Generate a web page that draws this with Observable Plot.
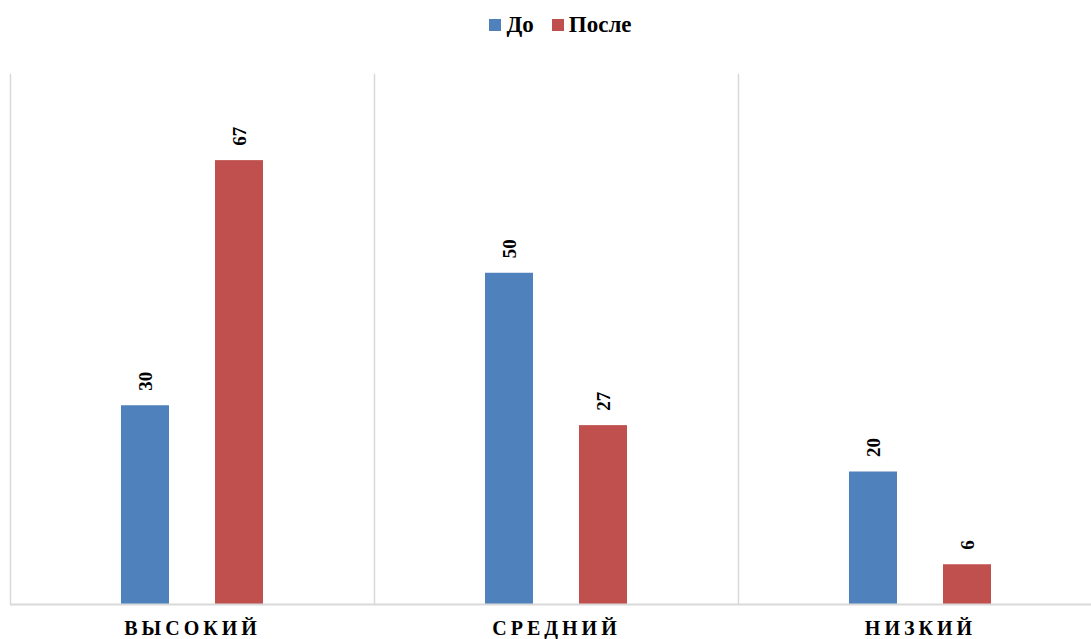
<!DOCTYPE html>
<html>
<head>
<meta charset="utf-8">
<script src="https://cdn.jsdelivr.net/npm/d3@7"></script>
<script src="https://cdn.jsdelivr.net/npm/@observablehq/plot@0.6"></script>
<style>
  html, body { margin: 0; padding: 0; background: #fff; overflow: hidden; }
  #legend { height: 44px; box-sizing: border-box; padding-top: 13px; padding-left: 30px; display: flex; justify-content: center; align-items: flex-start; gap: 18px;
    font-family: "Liberation Serif", "Times New Roman", serif; font-weight: bold; font-size: 23px; color: #000; }
  #legend .item { display: flex; align-items: center; line-height: 23px; }
  #legend .sw { width: 12px; height: 12px; display: inline-block; margin-right: 5px; }
  g[aria-label="fx-axis tick label"] text { letter-spacing: 4px; }
</style>
</head>
<body>
<div id="legend"></div>
<div id="chart"></div>
<script>
const categories = ["ВЫСОКИЙ", "СРЕДНИЙ", "НИЗКИЙ"];
const series = ["До", "После"];
const before = [30, 50, 20];
const after = [67, 27, 6];
const colors = ["#4F81BD", "#C0504D"];

const data = [];
categories.forEach((c, i) => {
  data.push({cat: c, series: series[0], value: before[i]});
  data.push({cat: c, series: series[1], value: after[i]});
});

const font = '"Liberation Serif", "Times New Roman", serif';

const legend = document.getElementById("legend");
series.forEach((s, i) => {
  const it = document.createElement("div");
  it.className = "item";
  const sw = document.createElement("span");
  sw.className = "sw";
  sw.style.background = colors[i];
  it.appendChild(sw);
  it.appendChild(document.createTextNode(s));
  legend.appendChild(it);
});

const chart = Plot.plot({
  width: 1091,
  height: 595,
  marginLeft: 10,
  marginRight: -11,
  marginTop: 30,
  marginBottom: 35,
  style: {fontFamily: font, background: "#fff", overflow: "hidden"},
  fx: {domain: categories, padding: 0, label: null},
  x: {domain: series, paddingInner: 0.4842, paddingOuter: 1.158, axis: null},
  y: {domain: [0, 80], axis: null},
  color: {domain: series, range: colors},
  marks: [
    Plot.frame({anchor: "left", stroke: "#d9d9d9", strokeWidth: 1.5}),
    Plot.barY(data, {fx: "cat", x: "series", y: "value", fill: "series"}),
    Plot.ruleY([0], {stroke: "#d9d9d9", strokeWidth: 2}),
    Plot.text(data, {fx: "cat", x: "series", y: "value", text: d => String(d.value),
      rotate: -90, textAnchor: "start", dy: -15, fontSize: 19, fontWeight: "bold", fill: "#000"}),
    Plot.axisFx({anchor: "bottom", tickSize: 0, tickPadding: 16, fontSize: 20, fontWeight: "bold", label: null, fill: "#000"})
  ]
});
document.getElementById("chart").appendChild(chart);
</script>
</body>
</html>
